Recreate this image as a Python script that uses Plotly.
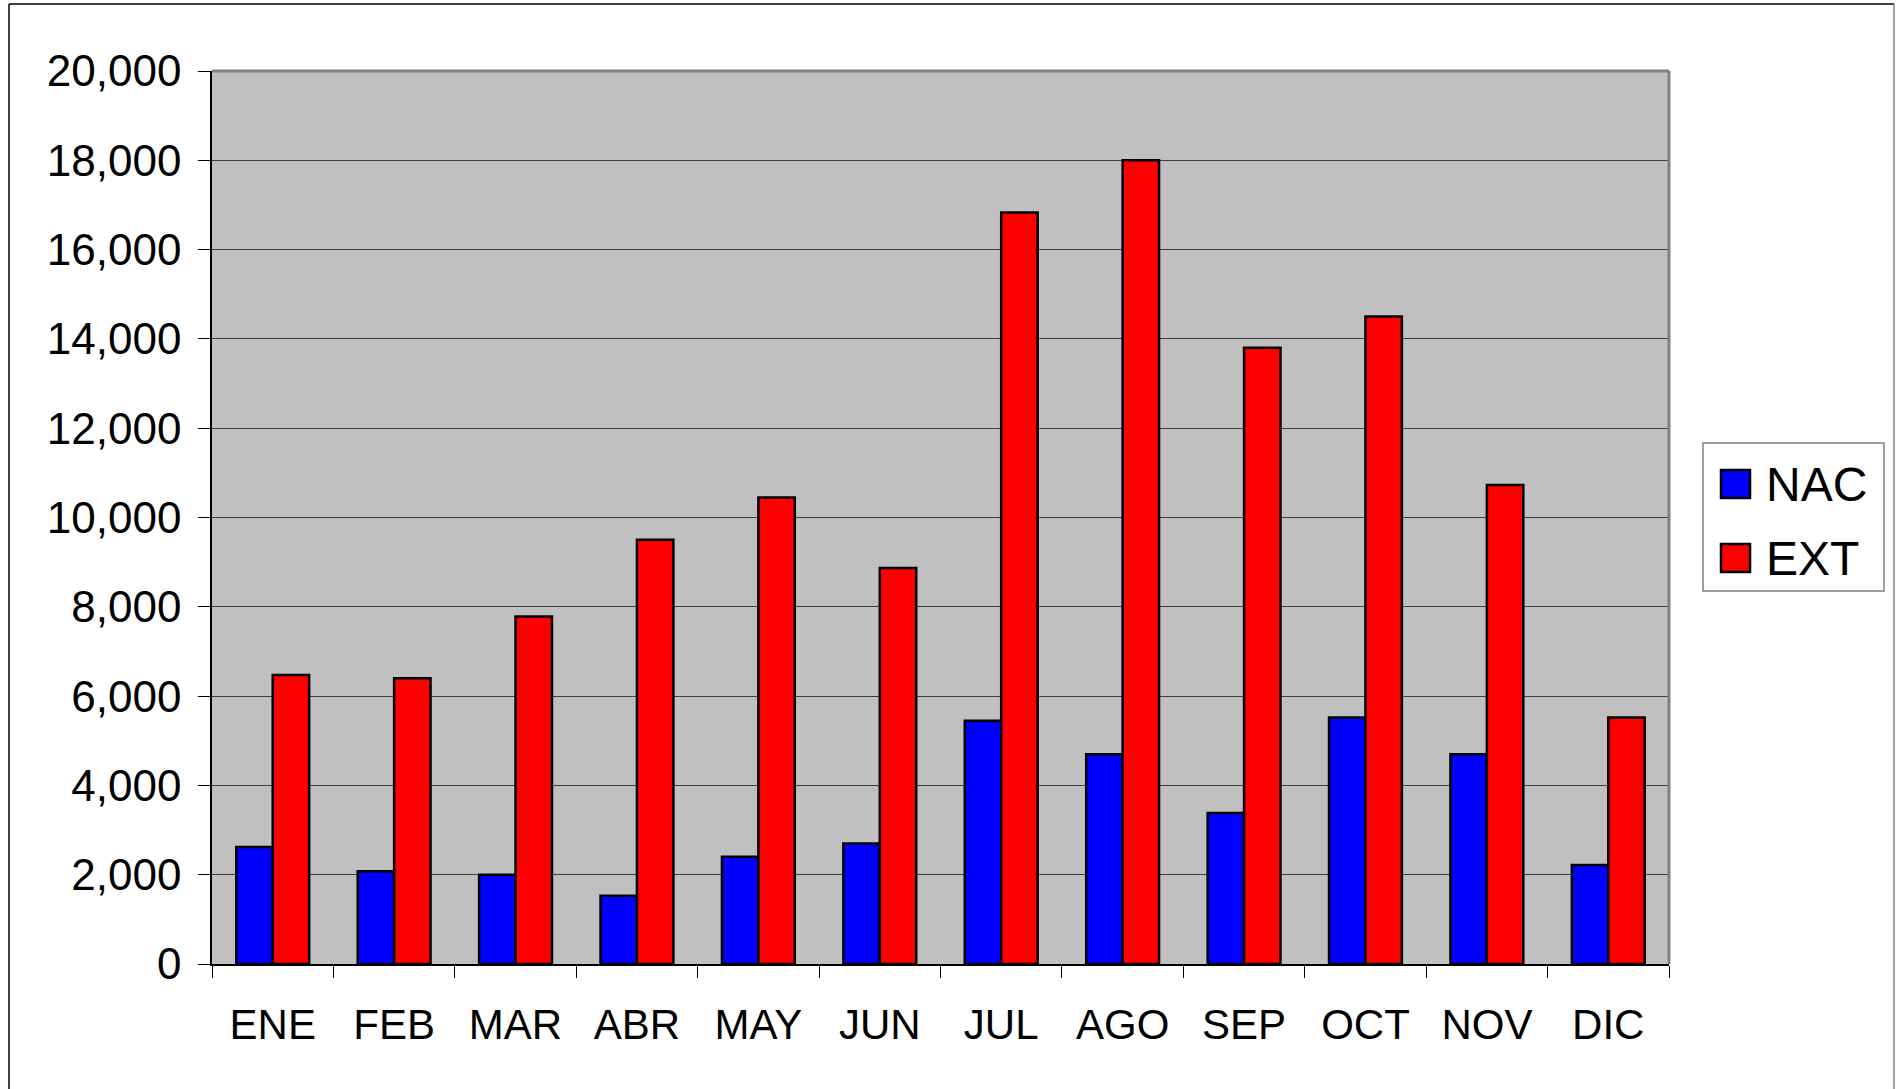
import plotly.graph_objects as go

# datos mensuales
meses = ["ENE", "FEB", "MAR", "ABR", "MAY", "JUN", "JUL", "AGO", "SEP", "OCT", "NOV", "DIC"]
nac = [2620, 2080, 2000, 1530, 2400, 2700, 5450, 4700, 3380, 5520, 4700, 2220]
ext = [6470, 6400, 7780, 9500, 10450, 8870, 16830, 18000, 13800, 14500, 10730, 5520]
series = ["NAC", "EXT"]
colores = ["#0000ff", "#ff0000"]

W, H = 1896, 1089
L, R, T, B = 212, 1669, 71, 964  # area del grafico en px


def px(x):
    return (x - L) / (R - L)


def py(y):
    return (B - y) / (B - T)


fig = go.Figure()
for nombre, valores, color in zip(series, [nac, ext], colores):
    fig.add_trace(go.Bar(x=meses, y=valores, name=nombre, showlegend=False,
                         marker=dict(color=color, line=dict(color="black", width=2.5))))

fig.update_layout(
    width=W, height=H,
    margin=dict(l=L, r=W - R, t=T, b=H - B),
    plot_bgcolor="#c0c0c0", paper_bgcolor="white",
    font=dict(family="Liberation Sans, Arial", color="black", size=43),
    barmode="group", bargap=0.4, bargroupgap=0,
)
fig.update_xaxes(type="category", tickson="boundaries", ticks="outside", ticklen=12,
                 tickcolor="black", showline=True, linecolor="black", linewidth=1.5,
                 showgrid=False, tickfont=dict(size=42), ticklabelstandoff=23)
fig.update_yaxes(range=[0, 20000], dtick=2000, tickformat=",", ticks="outside", ticklen=12,
                 tickcolor="black", showline=True, linecolor="black", linewidth=1.5,
                 gridcolor="#404040", gridwidth=1, zeroline=False, tickfont=dict(size=44),
                 ticklabelstandoff=8)

# borde gris superior y derecho del area
fig.add_shape(type="line", xref="paper", yref="paper", x0=0, x1=1, y0=1, y1=1,
              line=dict(color="#808080", width=3))
fig.add_shape(type="line", xref="paper", yref="paper", x0=1, x1=1, y0=0, y1=1,
              line=dict(color="#808080", width=3))

# marco exterior
fig.add_shape(type="line", xref="paper", yref="paper", x0=px(9), x1=px(1894), y0=py(4), y1=py(4),
              line=dict(color="black", width=1.5))
fig.add_shape(type="line", xref="paper", yref="paper", x0=px(9), x1=px(9), y0=py(4), y1=py(1100),
              line=dict(color="black", width=1.5))
fig.add_shape(type="line", xref="paper", yref="paper", x0=px(1894), x1=px(1894), y0=py(4), y1=py(1100),
              line=dict(color="#808080", width=1.5))

# leyenda
fig.add_shape(type="rect", xref="paper", yref="paper", x0=px(1703), x1=px(1884), y0=py(591), y1=py(443),
              line=dict(color="#808080", width=1.5), fillcolor="white")
for i, (nombre, color) in enumerate(zip(series, colores)):
    yc = 484 + i * 74
    fig.add_shape(type="rect", xref="paper", yref="paper", x0=px(1721), x1=px(1750),
                  y0=py(yc + 14), y1=py(yc - 14), line=dict(color="black", width=2.5), fillcolor=color)
    fig.add_annotation(xref="paper", yref="paper", x=px(1764), y=py(yc), text=nombre,
                       showarrow=False, xanchor="left", yanchor="middle", font=dict(size=48))

fig.write_html("out.html", config={"displayModeBar": False},
               post_script="document.body.style.margin='0';")
